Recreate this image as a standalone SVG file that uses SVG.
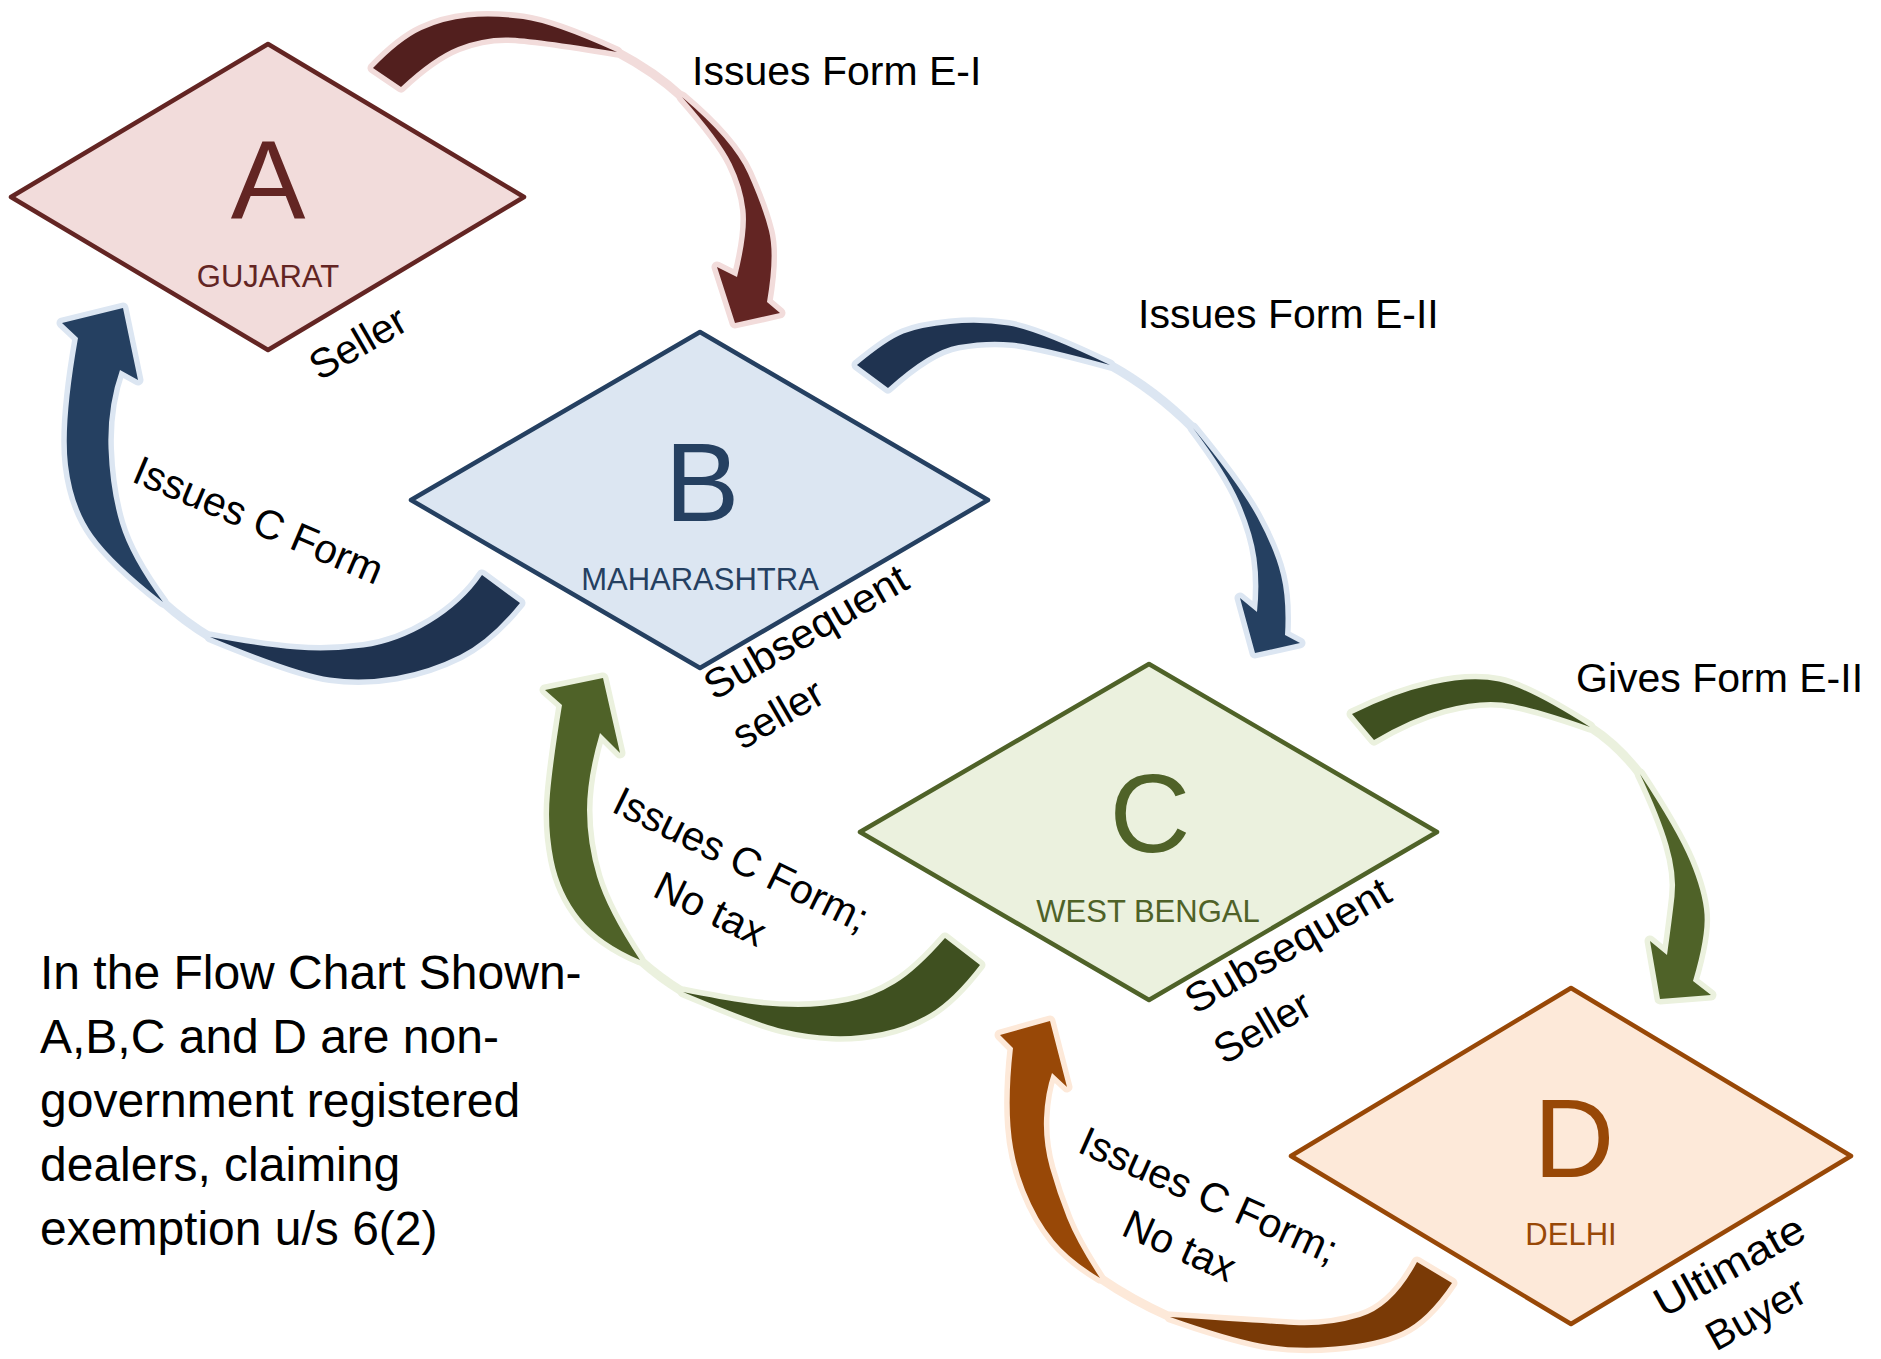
<svg xmlns="http://www.w3.org/2000/svg" width="1881" height="1359" viewBox="0 0 1881 1359">
<style>
text{font-family:"Liberation Sans",Arial,sans-serif}
.dia{stroke-width:4.5;stroke-linejoin:round}
.big{font-size:112px;text-anchor:middle}
.state{font-size:31px;text-anchor:middle}
.lbl{font-size:41px;fill:#000}
.mid{text-anchor:middle}
.para{font-size:48px;fill:#000}
.out{stroke-width:11;stroke-linejoin:round;paint-order:stroke}
.sliver{fill:none;stroke-width:9;stroke-linecap:round}
.r .out,.r .sliver{stroke:#f2dcdb}.r .tail{fill:#521f1e}.r .head{fill:#632523}
.b .out,.b .sliver{stroke:#dce6f2}.b .tail{fill:#1f3350}.b .head{fill:#254061}
.g .out,.g .sliver{stroke:#ebf1de}.g .tail{fill:#3f5020}.g .head{fill:#4f6228}
.o .out,.o .sliver{stroke:#fde9d9}.o .tail{fill:#7a3a06}.o .head{fill:#984807}
</style>
<rect width="1881" height="1359" fill="#fff"/>

<g id="node-A">
<polygon class="dia" points="11,197 268,44 524,197 268,350" fill="#f2dcdb" stroke="#632523"/>
<text class="big" x="268" y="218" fill="#632523">A</text>
<text class="state" x="268" y="287" fill="#632523">GUJARAT</text>
<text class="lbl mid" transform="translate(365,355) rotate(-30)">Seller</text>
</g>

<g id="node-B">
<polygon class="dia" points="411,500 700,332 988,500 700,668" fill="#dce6f2" stroke="#254061"/>
<text class="big" x="702" y="521" fill="#254061">B</text>
<text class="state" x="700" y="590" fill="#254061">MAHARASHTRA</text>
<text class="lbl" transform="translate(714,701) rotate(-30)"><tspan x="0" y="0" textLength="228" lengthAdjust="spacingAndGlyphs">Subsequent</tspan><tspan x="0" y="57">seller</tspan></text>
</g>

<g id="node-C">
<polygon class="dia" points="860,832 1149,664 1437,832 1149,1000" fill="#ebf1de" stroke="#4f6228"/>
<text class="big" x="1150" y="852" fill="#4f6228">C</text>
<text class="state" x="1148" y="922" fill="#4f6228">WEST BENGAL</text>
<text class="lbl" transform="translate(1195,1015) rotate(-30)"><tspan x="0" y="0" textLength="230" lengthAdjust="spacingAndGlyphs">Subsequent</tspan><tspan x="0" y="58">Seller</tspan></text>
</g>

<g id="node-D">
<polygon class="dia" points="1291,1156 1571,988 1851,1156 1571,1324" fill="#fde9d9" stroke="#984807"/>
<text class="big" x="1574" y="1177" fill="#984807">D</text>
<text class="state" x="1571" y="1245" fill="#984807">DELHI</text>
<text class="lbl mid" transform="translate(1736,1278) rotate(-29)"><tspan x="0" y="0" textLength="166" lengthAdjust="spacingAndGlyphs">Ultimate</tspan><tspan x="0" y="55">Buyer</tspan></text>
</g>

<g id="connectors">
<g id="arrow-A-B" class="r">
<path class="sliver" d="M617,52 Q655,72 682,97"/>
<path class="out tail" d="M373,68 Q400,40 421.5,30 Q443,20 468,17.5 Q493,15 523,19 Q553,23 617,52 Q533,38 508,37.5 Q483,37 458,47 Q433,57 401,87 Z"/>
<path class="out head" d="M682,97 Q733,140 748,173.5 Q763,207 769,231 Q775,255 767,302 L780,313 L735,323 L717,267 L737,277 Q748,233 745.5,210 Q743,187 731.5,163.5 Q720,140 682,97 Z"/>
<text class="lbl" x="692" y="85">Issues Form E-I</text>
</g>

<g id="arrow-B-C" class="b">
<path class="sliver" d="M1110,365 Q1155,390 1193,428"/>
<path class="out tail" d="M857,365 Q887,340 903.5,333.5 Q920,327 950,324 Q980,321 1008.5,325.5 Q1037,330 1110,365 Q1037,345 1012,342.5 Q987,340 958.5,345 Q930,350 888,388 Z"/>
<path class="out head" d="M1193,428 Q1240,485 1257.5,517.5 Q1275,550 1281,575 Q1287,600 1285,635 L1300,643 L1255,653 L1240,598 L1257,612 Q1260,583 1256.5,558 Q1253,533 1240,503 Q1227,473 1193,428 Z"/>
<text class="lbl" x="1138" y="328">Issues Form E-II</text>
</g>

<g id="arrow-C-D" class="g">
<path class="sliver" d="M1590,727 Q1618,745 1640,774"/>
<path class="out tail" d="M1352,714 Q1394,693 1432.5,684.5 Q1471,676 1499,681.5 Q1527,687 1590,727 Q1527,705 1502,702.5 Q1477,700 1444,709 Q1411,718 1374,740 Z"/>
<path class="out head" d="M1640,774 Q1677,830 1690,861 Q1703,892 1704.5,914.5 Q1706,937 1693,981 L1711,995 L1660,999 L1650,941 L1667,955 Q1672,919 1674.5,896.5 Q1677,874 1668.5,845 Q1660,816 1640,774 Z"/>
<text class="lbl" x="1576" y="692">Gives Form E-II</text>
</g>

<g id="arrow-B-A" class="b">
<path class="sliver" d="M210,637 Q185,622 163,602"/>
<path class="out tail" d="M520,603 Q490,640 460,655 Q430,670 396.5,676 Q363,682 330,677.5 Q297,673 210,637 Q263,647 296.5,649.5 Q330,652 363.5,647.5 Q397,643 430,623 Q463,603 482,575 Z"/>
<path class="out head" d="M163,602 Q113,563 93,535 Q73,507 68,465 Q63,423 78,338 L62,323 L123,308 L138,380 L120,370 Q107,407 108.5,448.5 Q110,490 120,523.5 Q130,557 163,602 Z"/>
<text class="lbl mid" transform="translate(253,533) rotate(23)">Issues C Form</text>
</g>

<g id="arrow-C-B" class="g">
<path class="sliver" d="M683,992 Q660,978 640,960"/>
<path class="out tail" d="M980,965 Q953,1000 930,1013.5 Q907,1027 882,1032 Q857,1037 832,1036 Q807,1035 782,1029 Q757,1023 683,992 Q723,1000 748,1003.5 Q773,1007 798,1007 Q823,1007 848,1002 Q873,997 895,983.5 Q917,970 945,938 Z"/>
<path class="out head" d="M640,960 Q600,943 580,918 Q560,893 553.5,860 Q547,827 550,793.5 Q553,760 562,705 L545,690 L603,678 L620,753 L600,733 Q587,777 587,810 Q587,843 597,876.5 Q607,910 640,960 Z"/>
<text class="lbl mid" transform="translate(735,872) rotate(26)"><tspan x="0" y="0">Issues C Form;</tspan><tspan x="-6" y="58">No tax</tspan></text>
</g>

<g id="arrow-D-C" class="o">
<path class="sliver" d="M1170,1317 Q1132,1300 1100,1278"/>
<path class="out tail" d="M1452,1283 Q1427,1320 1402,1331.5 Q1377,1343 1335,1346.5 Q1293,1350 1260,1343.5 Q1227,1337 1170,1317 Q1260,1323 1293.5,1325 Q1327,1327 1360,1317 Q1393,1307 1417,1262 Z"/>
<path class="out head" d="M1100,1278 Q1070,1260 1053.5,1240 Q1037,1220 1025,1190 Q1013,1160 1010.5,1126.5 Q1008,1093 1013,1048 L1000,1035 L1050,1021 L1067,1087 L1052,1073 Q1045,1093 1044,1118 Q1043,1143 1050,1168 Q1057,1193 1067,1218 Q1077,1243 1100,1278 Z"/>
<text class="lbl mid" transform="translate(1203,1208) rotate(24)"><tspan x="0" y="0">Issues C Form;</tspan><tspan x="-6" y="58">No tax</tspan></text>
</g>
</g>

<g id="note">
<text class="para" x="40" y="989">In the Flow Chart Shown-</text>
<text class="para" x="40" y="1053">A,B,C and D are non-</text>
<text class="para" x="40" y="1117">government registered</text>
<text class="para" x="40" y="1181">dealers, claiming</text>
<text class="para" x="40" y="1245">exemption u/s 6(2)</text>
</g>
</svg>
